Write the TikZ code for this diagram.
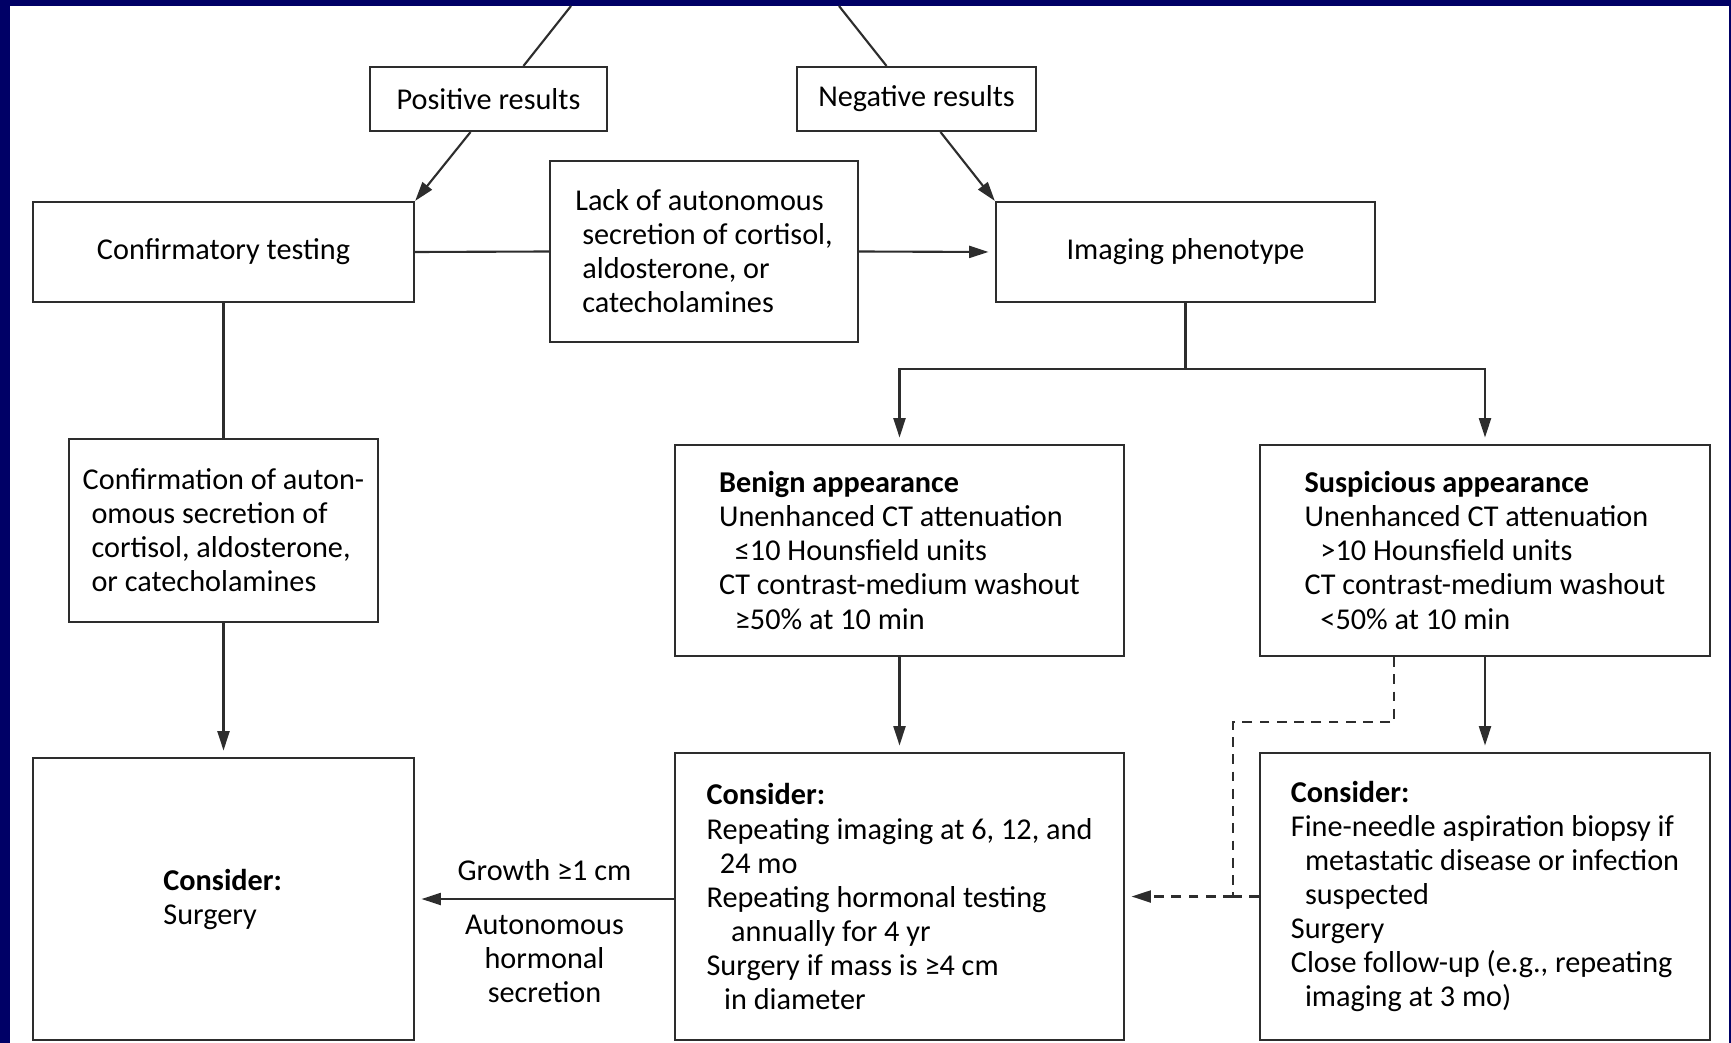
\documentclass[tikz,border=0pt]{standalone}
\usepackage{fontspec}
\setmainfont{Carlito}
\usetikzlibrary{arrows.meta,calc}
\definecolor{navy}{RGB}{0,0,102}
\definecolor{ink}{RGB}{45,45,45}

\begin{document}
\begin{tikzpicture}[x=0.01cm,y=-0.01cm,
	box/.style={draw=ink,line width=0.6pt,inner sep=0pt,align=left,font=\fontsize{8.6}{9.67}\selectfont},
	lnk/.style={draw=ink,line width=0.6pt},
	arr/.style={lnk,-{Triangle[length=5.5pt,width=3.4pt]},shorten >=1.8pt},
	dsh/.style={lnk,dash pattern=on 2.8pt off 2.1pt},
	lbl/.style={align=center,font=\fontsize{8.6}{9.67}\selectfont}]
	\fill[navy] (0,0) rectangle (1731,1043);
	\fill[white] (10,6) rectangle (1729,1043);
	\useasboundingbox (0,0) rectangle (1731,1043);
	\path
	(571,6) coordinate (inL)
	(839,6) coordinate (inR)
	;
	\node[box,minimum width=2.37cm,minimum height=.64cm] (pos) at (488.5,99) {Positive results};
	\node[box,minimum width=2.39cm,minimum height=.64cm] (neg) at (916.5,99) {Negative results};
	\node[box,minimum width=3.81cm,minimum height=1cm] (conf) at (223.5,252) {Confirmatory testing};
	\node[box,minimum width=3.08cm,minimum height=1.81cm] (lack) at (704,251.5) {Lack of autonomous\\\hspace{2pt}secretion of cortisol,\\\hspace{2pt}aldosterone, or\\\hspace{2pt}catecholamines};
	\node[box,minimum width=3.79cm,minimum height=1cm] (img) at (1185.5,252) {Imaging phenotype};
	\node[box,minimum width=3.09cm,minimum height=1.83cm] (cfm) at (223.5,530.5) {Confirmation of auton-\\\hspace{2.5pt}omous secretion of\\\hspace{2.5pt}cortisol, aldosterone,\\\hspace{2.5pt}or catecholamines};
	\node[box,minimum width=4.49cm,minimum height=2.11cm] (ben) at (899.5,550.5) {\textbf{Benign appearance}\\Unenhanced CT attenuation\\\hspace{4.5pt}≤10 Hounsfield units\\CT contrast-medium washout\\\hspace{4.5pt}≥50\% at 10 min};
	\node[box,minimum width=4.5cm,minimum height=2.11cm] (sus) at (1485,550.5) {\textbf{Suspicious appearance}\\Unenhanced CT attenuation\\\hspace{4.5pt}>10 Hounsfield units\\CT contrast-medium washout\\\hspace{4.5pt}<50\% at 10 min};
	\node[box,minimum width=3.81cm,minimum height=2.82cm,text width=1.2cm] (surg) at (223.5,899) {\textbf{Consider:}\\Surgery};
	\node[box,minimum width=4.49cm,minimum height=2.87cm] (conb) at (899.5,896.5) {\textbf{Consider:}\\Repeating imaging at 6, 12, and\\\hspace{3.8pt}24 mo\\Repeating hormonal testing\\\hspace{7pt}annually for 4 yr\\Surgery if mass is ≥4 cm\\\hspace{5pt}in diameter};
	\node[box,minimum width=4.5cm,minimum height=2.87cm] (cons) at (1485,896.5) {\textbf{Consider:}\\Fine-needle aspiration biopsy if\\\hspace{4pt}metastatic disease or infection\\\hspace{4pt}suspected\\Surgery\\Close follow-up (e.g., repeating\\\hspace{4pt}imaging at 3 mo)};
	\path
	($(img.south)+(0,66)$) coordinate (fork)
	($(cons.west)+(-26,0)$) coordinate (joint)
	;
	\draw[lnk] (inL) -- ($(pos.north)+(35,0)$);
	\draw[lnk] (inR) -- ($(neg.north)+(-30,0)$);
	\draw[arr,shorten >=0pt] ($(pos.south)+(-18,0)$) -- (conf.north east);
	\draw[arr,shorten >=0pt] ($(neg.south)+(24,0)$) -- (img.north west);
	\draw[lnk] (conf.east) -- (lack.west);
	\draw[arr] (lack.east) -- (img.west);
	\draw[lnk] (img.south) -- (fork);
	\draw[arr] (fork) -| (ben.north);
	\draw[arr] (fork) -| (sus.north);
	\draw[lnk] (conf.south) -- (cfm.north);
	\draw[arr] (cfm.south) -- (surg.north);
	\draw[arr] (ben.south) -- (conb.north);
	\draw[arr] (sus.south) -- (cons.north);
	\draw[arr] (conb.west |- 0,899) -- (surg.east |- 0,899)
	node[lbl,midway,above=1.5pt] (grow) {Growth ≥1 cm}
	node[lbl,midway,below=0.8pt] (auto) {Autonomous\\hormonal\\secretion};
	\draw[dsh] ($(sus.south)+(-91,0)$) -- ++(0,65) -| (joint);
	\draw[dsh] (cons.west) -- (joint);
	\draw[dsh,-{Triangle[length=5.5pt,width=3.4pt]},shorten >=1.8pt] (joint) -- (joint -| conb.east);
\end{tikzpicture}
\end{document}
